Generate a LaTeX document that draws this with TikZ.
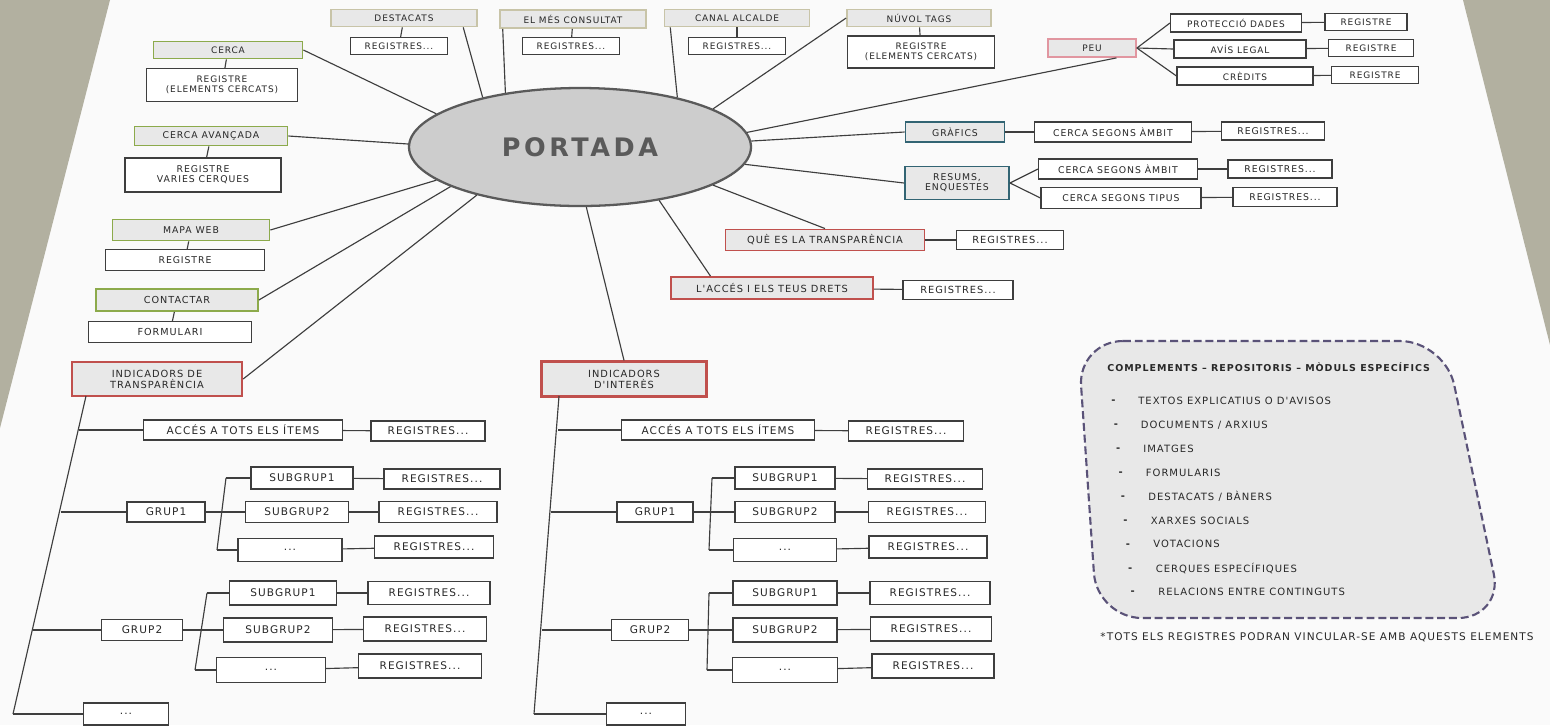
\documentclass[tikz,border=0pt]{standalone}
\usepackage{fontspec}
\usetikzlibrary{shapes.geometric}
\newfontfamily\boxfont[LetterSpace=10]{DejaVu Sans}
\newfontfamily\titlefont[LetterSpace=14]{DejaVu Sans}
\definecolor{fons}{RGB}{178,176,160}
\definecolor{paper}{RGB}{250,250,250}
\definecolor{linia}{RGB}{62,62,62}
\definecolor{lletra}{RGB}{40,40,40}
\definecolor{caixa}{RGB}{232,232,232}
\definecolor{beix}{RGB}{200,196,168}
\definecolor{verd}{RGB}{140,170,75}
\definecolor{vermell}{RGB}{192,80,77}
\definecolor{rosa}{RGB}{225,150,160}
\definecolor{blau}{RGB}{50,100,115}
\definecolor{lila}{RGB}{90,82,120}
\definecolor{ellgris}{RGB}{205,205,205}
\definecolor{elltext}{RGB}{90,90,90}
\begin{document}
\begin{tikzpicture}[x=0.02cm,y=-0.02cm,
    fs/.style={font=\boxfont\fontsize{#1}{\dimexpr #1pt*11/10\relax}\selectfont},
    wd/.style={minimum width=#1*0.02cm},
    ht/.style={minimum height=#1*0.02cm},
    box/.style={draw=linia,line width=0.6pt,fill=white,inner sep=0.5pt,align=center,text=lletra},
    topbox/.style={box,draw=beix,fill=caixa,line width=1pt},
    greenbox/.style={box,draw=verd,fill=caixa,line width=1pt},
    redbox/.style={box,draw=vermell,fill=caixa,line width=1.1pt},
    pinkbox/.style={box,draw=rosa,fill=caixa,line width=1pt},
    bluebox/.style={box,draw=blau,fill=caixa,line width=1.1pt},
    link/.style={draw=linia,line width=0.65pt},
    listitem/.style={anchor=west,inner sep=0pt,text=lletra,fs=5.7},
    fs=5.1]
    \fill[paper] (0,0) rectangle (1550,725); % full
    \fill[fons] (0,0) -- (110,0) -- (0,428) -- cycle; % fons esquerra
    \fill[fons] (1463,0) -- (1550,0) -- (1550,345) -- cycle; % fons dreta
    \useasboundingbox (0,0) rectangle (1550,725);
    % portada
    \node[ellipse,draw=elltext,line width=1.3pt,fill=ellgris,wd=342,ht=118,inner sep=0pt,
      font=\titlefont\bfseries\fontsize{14.5}{14.5}\selectfont,text=elltext] (port) at (580,147) {PORTADA};
    % fila de dalt
    \node[topbox,wd=146,ht=17] (dest) at (404,18) {DESTACATS};
    \node[box,wd=97,ht=17] (destr) at (399,46) {REGISTRES...};
    \node[topbox,wd=146,ht=18] (mes) at (573,19) {EL MÉS CONSULTAT};
    \node[box,wd=97,ht=17] (mesr) at (571,46) {REGISTRES...};
    \node[topbox,wd=145,ht=17] (canal) at (737,18) {CANAL ALCALDE};
    \node[box,wd=97,ht=17] (canalr) at (737,46) {REGISTRES...};
    \node[topbox,wd=144,ht=17] (nuvol) at (919,18) {NÚVOL TAGS};
    \node[box,wd=147,ht=32] (nuvolr) at (921,52) {REGISTRE\\(ELEMENTS CERCATS)};
    \draw[link] (dest) -- (destr); \draw[link] (mes) -- (mesr); % registres
    \draw[link] (canal) -- (canalr); \draw[link] (nuvol) -- (nuvolr);
    % columna esquerra
    \node[greenbox,wd=149,ht=17] (cerca) at (228,50) {CERCA};
    \node[box,wd=151,ht=33] (cercar) at (222,85) {REGISTRE\\(ELEMENTS CERCATS)};
    \node[greenbox,wd=153,ht=19,fs=5.3] (cercaav) at (211,136) {CERCA AVANÇADA};
    \node[box,wd=156,ht=34,fs=5.3] (cercaavr) at (203,175) {REGISTRE\\VARIES CERQUES};
    \node[greenbox,wd=157,ht=21,fs=5.3] (mapa) at (191,230) {MAPA WEB};
    \node[box,wd=159,ht=21,fs=5.3] (mapar) at (185,260) {REGISTRE};
    \node[greenbox,wd=162,ht=22,fs=5.5] (contac) at (177,300) {CONTACTAR};
    \node[box,wd=163,ht=21,fs=5.5] (contacr) at (170,332) {FORMULARI};
    \draw[link] (cerca) -- (cercar); \draw[link] (cercaav) -- (cercaavr);
    \draw[link] (mapa) -- (mapar); \draw[link] (contac) -- (contacr);
    % peu
    \node[pinkbox,wd=88,ht=18] (peu) at (1092,48) {PEU};
    \node[box,wd=131,ht=18] (prot) at (1236,23) {PROTECCIÓ DADES};
    \node[box,wd=82,ht=17] (protr) at (1366,22) {REGISTRE};
    \node[box,wd=132,ht=18] (avis) at (1240,49) {AVÍS LEGAL};
    \node[box,wd=85,ht=17] (avisr) at (1371,48) {REGISTRE};
    \node[box,wd=136,ht=18] (cred) at (1245,76) {CRÈDITS};
    \node[box,wd=87,ht=17] (credr) at (1375,75) {REGISTRE};
    \draw[link] (peu.east) -- (prot.west); \draw[link] (prot) -- (protr);
    \draw[link] (peu.east) -- (avis.west); \draw[link] (avis) -- (avisr);
    \draw[link] (peu.east) -- (cred.west); \draw[link] (cred) -- (credr);
    % grafics i resums
    \node[bluebox,wd=99,ht=20,fs=5.3] (graf) at (955,132) {GRÀFICS};
    \node[box,wd=157,ht=20,fs=5.3] (grafc) at (1113,132) {CERCA SEGONS ÀMBIT};
    \node[box,wd=103,ht=18,fs=5.3] (grafr) at (1273,131) {REGISTRES...};
    \node[bluebox,wd=104,ht=33,fs=5.3] (resum) at (957,183) {RESUMS,\\ENQUESTES};
    \node[box,wd=159,ht=20,fs=5.3] (resa) at (1118,169) {CERCA SEGONS ÀMBIT};
    \node[box,wd=104,ht=18,fs=5.3] (resar) at (1280,169) {REGISTRES...};
    \node[box,wd=160,ht=21,fs=5.3] (rest) at (1121,198) {CERCA SEGONS TIPUS};
    \node[box,wd=104,ht=19,fs=5.3] (restr) at (1285,197) {REGISTRES...};
    \draw[link] (graf) -- (grafc); \draw[link] (grafc) -- (grafr);
    \draw[link] (resum.east) -- (resa.west); \draw[link] (resa) -- (resar);
    \draw[link] (resum.east) -- (rest.west); \draw[link] (rest) -- (restr);
    % transparencia i drets
    \node[redbox,wd=199,ht=21,fs=5.6] (que) at (825,240) {QUÈ ES LA TRANSPARÈNCIA};
    \node[box,wd=107,ht=19,fs=5.6] (quer) at (1010,240) {REGISTRES...};
    \node[redbox,wd=202,ht=22,fs=5.6] (acc) at (772,288) {L'ACCÉS I ELS TEUS DRETS};
    \node[box,wd=110,ht=19,fs=5.6] (accr) at (958,290) {REGISTRES...};
    \draw[link] (que) -- (quer); \draw[link] (acc) -- (accr);
    % indicadors
    \node[redbox,line width=1.3pt,wd=170,ht=34,fs=5.6] (itr) at (157,379) {INDICADORS DE\\TRANSPARÈNCIA};
    \node[redbox,line width=1.3pt,wd=165,ht=35,fs=5.6] (iin) at (624,379) {INDICADORS\\D'INTERÈS};
    % radis de la portada
    \draw[link] (port.153) -- (dest.-9);
    \draw[link] (port.144) -- (mes.188);
    \draw[link] (port.27) -- (canal.188);
    \draw[link] (port.16) -- (nuvol.west);
    \draw[link] (port.5) -- (peu.-22);
    \draw[link] (port.2) -- (graf.west);
    \draw[link] (port.-6) -- (resum.west);
    \draw[link] (port.-16) -- (que.north);
    \draw[link] (port.-34) -- (acc.169);
    \draw[link] (port.-84) -- (iin.north);
    \draw[link] (port.205) -- (itr.east);
    \draw[link] (port.197) -- (contac.east);
    \draw[link] (port.193) -- (mapa.east);
    \draw[link] (port.179) -- (cercaav.east);
    \draw[link] (port.167) -- (cerca.east);
    \begin{scope}[fs=6]
    % arbre esquerre
    \node[box,wd=199,ht=20] (iacc) at (243,430) {ACCÉS A TOTS ELS ÍTEMS};
    \node[box,wd=114,ht=20] (iaccr) at (428,431) {REGISTRES...};
    \node[box,wd=78,ht=20] (ig1) at (166,512) {GRUP1};
    \node[box,wd=102,ht=22] (ig1s1) at (302,478) {SUBGRUP1};
    \node[box,wd=116,ht=20] (ig1s1r) at (442,479) {REGISTRES...};
    \node[box,wd=103,ht=21] (ig1s2) at (297,512) {SUBGRUP2};
    \node[box,wd=118,ht=21] (ig1s2r) at (438,512) {REGISTRES...};
    \node[box,wd=104,ht=23] (ig1s3) at (290,550) {...};
    \node[box,wd=119,ht=22] (ig1s3r) at (434,547) {REGISTRES...};
    \node[box,wd=81,ht=21] (ig2) at (142,630) {GRUP2};
    \node[box,wd=107,ht=24] (ig2s1) at (283,593) {SUBGRUP1};
    \node[box,wd=122,ht=23] (ig2s1r) at (429,593) {REGISTRES...};
    \node[box,wd=109,ht=24] (ig2s2) at (278,630) {SUBGRUP2};
    \node[box,wd=123,ht=24] (ig2s2r) at (425,629) {REGISTRES...};
    \node[box,wd=109,ht=25] (ig2s3) at (271,670) {...};
    \node[box,wd=123,ht=24] (ig2s3r) at (420,666) {REGISTRES...};
    \node[box,wd=85,ht=22] (idots) at (126,714) {...};
    \coordinate (lt0) at (86,396); \coordinate (lt1) at (79,430);
    \coordinate (lt2) at (61,512); \coordinate (lt3) at (33,630);
    \coordinate (lt4) at (13,714);
    \coordinate (lg1a) at (226,478); \coordinate (lg1m) at (221,512); \coordinate (lg1b) at (217,550);
    \coordinate (lg2a) at (207,593); \coordinate (lg2m) at (201,630); \coordinate (lg2b) at (195,670);
    \draw[link] (lt0) -- (lt4); % tronc
    \draw[link] (lt1) -- (iacc.west); \draw[link] (iacc) -- (iaccr);
    \draw[link] (lt2) -- (ig1.west); \draw[link] (ig1.east) -- (lg1m);
    \draw[link] (lg1a) -- (lg1b);
    \draw[link] (lg1a) -- (ig1s1.west); \draw[link] (ig1s1) -- (ig1s1r);
    \draw[link] (lg1m) -- (ig1s2.west); \draw[link] (ig1s2) -- (ig1s2r);
    \draw[link] (lg1b) -- (ig1s3.west); \draw[link] (ig1s3) -- (ig1s3r);
    \draw[link] (lt3) -- (ig2.west); \draw[link] (ig2.east) -- (lg2m);
    \draw[link] (lg2a) -- (lg2b);
    \draw[link] (lg2a) -- (ig2s1.west); \draw[link] (ig2s1) -- (ig2s1r);
    \draw[link] (lg2m) -- (ig2s2.west); \draw[link] (ig2s2) -- (ig2s2r);
    \draw[link] (lg2b) -- (ig2s3.west); \draw[link] (ig2s3) -- (ig2s3r);
    \draw[link] (lt4) -- (idots.west);
    % arbre dret
    \node[box,wd=193,ht=20] (jacc) at (718,430) {ACCÉS A TOTS ELS ÍTEMS};
    \node[box,wd=115,ht=20] (jaccr) at (906,431) {REGISTRES...};
    \node[box,wd=76,ht=20] (jg1) at (655,512) {GRUP1};
    \node[box,wd=100,ht=22] (jg1s1) at (785,478) {SUBGRUP1};
    \node[box,wd=115,ht=20] (jg1s1r) at (925,479) {REGISTRES...};
    \node[box,wd=100,ht=21] (jg1s2) at (785,512) {SUBGRUP2};
    \node[box,wd=117,ht=21] (jg1s2r) at (927,512) {REGISTRES...};
    \node[box,wd=103,ht=23] (jg1s3) at (785,550) {...};
    \node[box,wd=118,ht=22] (jg1s3r) at (928,547) {REGISTRES...};
    \node[box,wd=77,ht=21] (jg2) at (650,630) {GRUP2};
    \node[box,wd=104,ht=24] (jg2s1) at (785,593) {SUBGRUP1};
    \node[box,wd=120,ht=23] (jg2s1r) at (930,593) {REGISTRES...};
    \node[box,wd=104,ht=24] (jg2s2) at (785,630) {SUBGRUP2};
    \node[box,wd=121,ht=24] (jg2s2r) at (931,629) {REGISTRES...};
    \node[box,wd=105,ht=25] (jg2s3) at (785,670) {...};
    \node[box,wd=122,ht=24] (jg2s3r) at (933,666) {REGISTRES...};
    \node[box,wd=79,ht=22] (jdots) at (646,714) {...};
    \coordinate (rt0) at (559,396); \coordinate (rt1) at (558,430);
    \coordinate (rt2) at (551,512); \coordinate (rt3) at (542,630);
    \coordinate (rt4) at (534,714);
    \coordinate (rg1a) at (712,478); \coordinate (rg1m) at (711,512); \coordinate (rg1b) at (709,550);
    \coordinate (rg2a) at (709,593); \coordinate (rg2m) at (708,630); \coordinate (rg2b) at (707,670);
    \draw[link] (rt0) -- (rt4); % tronc
    \draw[link] (rt1) -- (jacc.west); \draw[link] (jacc) -- (jaccr);
    \draw[link] (rt2) -- (jg1.west); \draw[link] (jg1.east) -- (rg1m);
    \draw[link] (rg1a) -- (rg1b);
    \draw[link] (rg1a) -- (jg1s1.west); \draw[link] (jg1s1) -- (jg1s1r);
    \draw[link] (rg1m) -- (jg1s2.west); \draw[link] (jg1s2) -- (jg1s2r);
    \draw[link] (rg1b) -- (jg1s3.west); \draw[link] (jg1s3) -- (jg1s3r);
    \draw[link] (rt3) -- (jg2.west); \draw[link] (jg2.east) -- (rg2m);
    \draw[link] (rg2a) -- (rg2b);
    \draw[link] (rg2a) -- (jg2s1.west); \draw[link] (jg2s1) -- (jg2s1r);
    \draw[link] (rg2m) -- (jg2s2.west); \draw[link] (jg2s2) -- (jg2s2r);
    \draw[link] (rg2b) -- (jg2s3.west); \draw[link] (jg2s3) -- (jg2s3r);
    \draw[link] (rt4) -- (jdots.west);
    \end{scope}
    % complements
    \draw[lila,line width=1.2pt,dash pattern=on 4.5pt off 2.2pt,fill=caixa,rounded corners=0.9cm]
      (1078,341) -- (1445,341) -- (1503,618) -- (1097,618) -- cycle;
    \node[anchor=west,inner sep=0pt,text=lletra,font=\boxfont\bfseries\fontsize{5.4}{5.4}\selectfont]
      (ctitol) at (1107,367) {COMPLEMENTS – REPOSITORIS – MÒDULS ESPECÍFICS};
    \foreach \txt [count=\i] in {TEXTOS EXPLICATIUS O D'AVISOS, DOCUMENTS / ARXIUS, IMATGES,
      FORMULARIS, DESTACATS / BÀNERS, XARXES SOCIALS, VOTACIONS, CERQUES ESPECÍFIQUES,
      RELACIONS ENTRE CONTINGUTS}{
      \node[listitem,font=\boxfont\bfseries\fontsize{5.7}{5.7}\selectfont] (bul\i) at (1108.6+2.4*\i,378+23.9*\i) {-};
      \node[listitem] (it\i) at (1135.5+2.5*\i,377+23.9*\i) {\txt};
    }
    \node[inner sep=0pt,text=lletra,fs=6] (nota) at (1317,637) {*TOTS ELS REGISTRES PODRAN VINCULAR-SE AMB AQUESTS ELEMENTS};
  \end{tikzpicture}
\end{document}
